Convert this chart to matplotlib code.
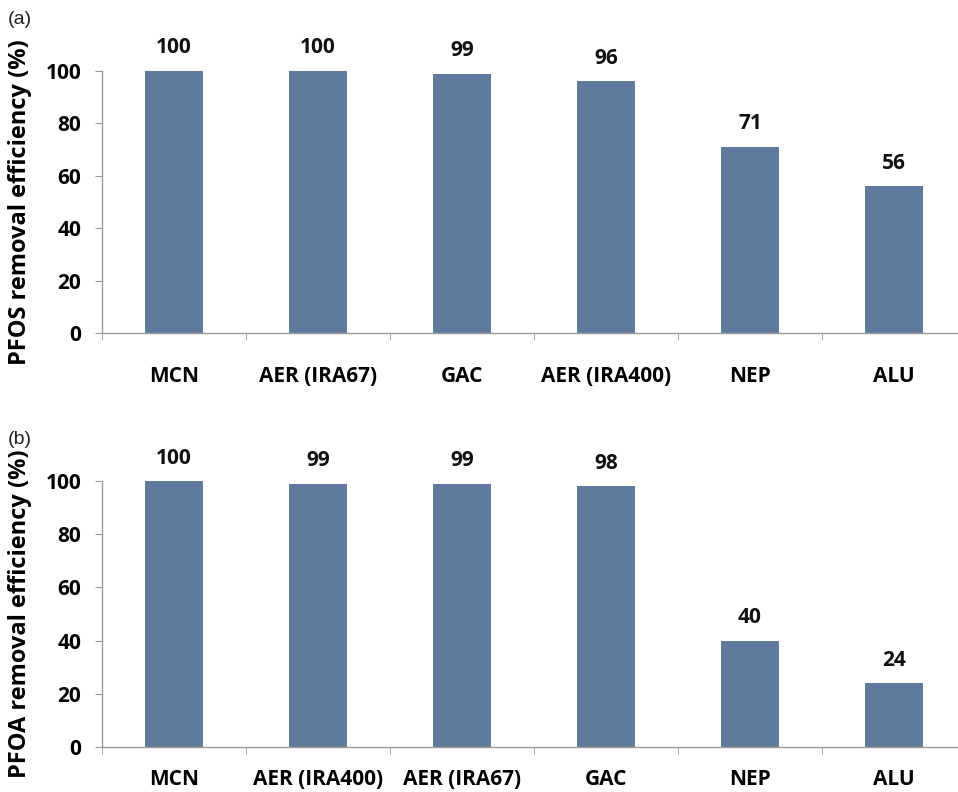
import matplotlib.pyplot as plt
import numpy as np

# PFOS / PFOA removal by sorbent
pfos_labels = ["MCN", "AER (IRA67)", "GAC", "AER (IRA400)", "NEP", "ALU"]
pfos_values = [100, 100, 99, 96, 71, 56]

pfoa_labels = ["MCN", "AER (IRA400)", "AER (IRA67)", "GAC", "NEP", "ALU"]
pfoa_values = [100, 99, 99, 98, 40, 24]

BAR_COLOR = "#5f7a9c"
AXIS_COLOR = "#9a9a9a"
BOLD_FONT = "Open Sans"

W, H = 958, 792
fig = plt.figure(figsize=(W / 100, H / 100), dpi=100)
fig.patch.set_facecolor("white")


def panel(rect, labels, values, ylabel, tag, tag_y, label_pad):
    ax = fig.add_axes(rect)
    x = np.arange(len(labels))
    bars = ax.bar(x, values, width=0.4, color=BAR_COLOR, clip_on=False, zorder=2)
    for b, v in zip(bars, values):
        ax.annotate(f"{v}", (b.get_x() + b.get_width() / 2, v),
                    xytext=(0, 9), textcoords="offset points",
                    ha="center", va="bottom", fontsize=15,
                    fontweight="bold", family=BOLD_FONT, color="#111111")
    ax.set_xlim(-0.5, len(labels) - 0.5)
    ax.set_ylim(0, 100)
    ax.set_yticks(np.arange(0, 101, 20))
    ax.set_yticklabels([str(t) for t in range(0, 101, 20)], fontsize=15,
                       fontweight="bold", family=BOLD_FONT)
    ax.set_xticks(x)
    ax.set_xticklabels(labels, fontsize=15, fontweight="bold", family=BOLD_FONT)
    ax.set_xticks(np.arange(-0.5, len(labels) - 0.4, 1.0), minor=True)
    ax.tick_params(axis="x", which="major", length=0, pad=label_pad)
    ax.tick_params(axis="x", which="minor", length=5, color=AXIS_COLOR, direction="out")
    ax.tick_params(axis="y", length=5, color=AXIS_COLOR, pad=10)
    for s in ("top", "right"):
        ax.spines[s].set_visible(False)
    for s in ("left", "bottom"):
        ax.spines[s].set_color(AXIS_COLOR)
        ax.spines[s].set_linewidth(1.0)
    ax.set_ylabel(ylabel, fontsize=17, fontweight="bold", family=BOLD_FONT)
    ax.yaxis.set_label_coords(-0.081, 0.5)
    fig.text(8 / W, 1 - tag_y / H, tag, fontsize=14, family="Liberation Sans",
             ha="left", va="center", color="#222222")
    return ax


panel([102 / W, (H - 333) / H, 864 / W, 262 / H], pfos_labels, pfos_values,
      "PFOS removal efficiency (%)", "(a)", 20, 24)
panel([102 / W, (H - 747) / H, 864 / W, 266 / H], pfoa_labels, pfoa_values,
      "PFOA removal efficiency (%)", "(b)", 440, 16)

fig.savefig("out.png", dpi=100)
